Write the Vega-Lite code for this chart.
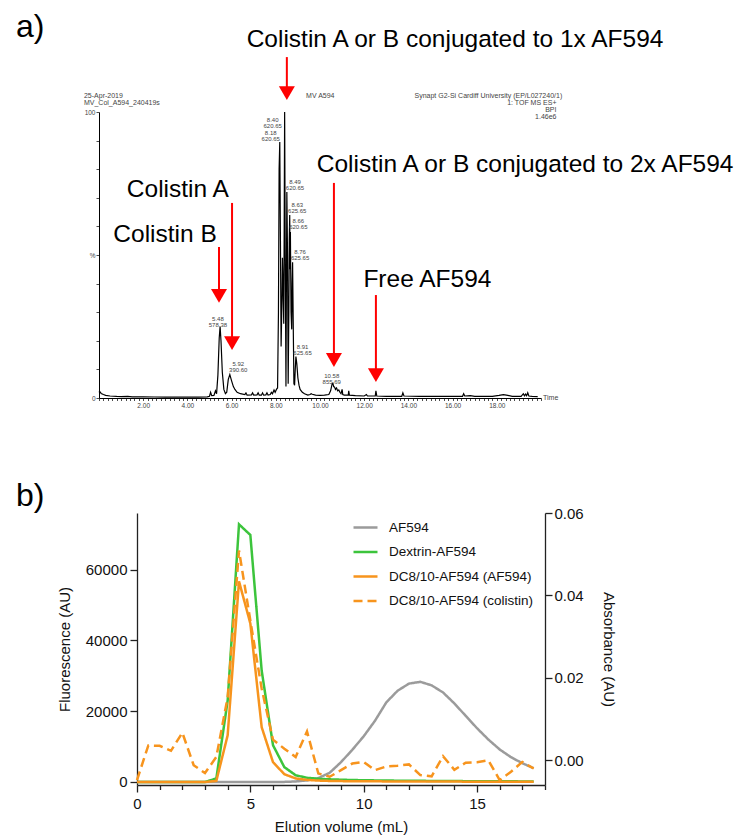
{
  "$schema": "https://vega.github.io/schema/vega-lite/v6.json",
  "width": 734,
  "height": 837,
  "autosize": {"type": "none"},
  "padding": 0,
  "config": {
    "view": {"stroke": null},
    "font": "Liberation Sans",
    "axis": {"grid": false, "labelFont": "Liberation Sans", "titleFont": "Liberation Sans", "labelFlush": false, "labelOverlap": false},
    "legend": {"labelFont": "Liberation Sans"},
    "text": {"font": "Liberation Sans"}
  },
  "datasets": {
    "chrom": [
      {"t":0,"i":2.0},{"t":0.03,"i":2.3},{"t":0.1,"i":1.6},{"t":0.2,"i":1.2},{"t":0.3,"i":0.9},{"t":0.5,"i":0.7},{"t":0.8,"i":0.55},{"t":1.0,"i":0.5},{"t":1.3,"i":0.6},{"t":1.5,"i":0.4},{"t":2.0,"i":0.4},{"t":2.5,"i":0.35},{"t":3.0,"i":0.3},{"t":3.5,"i":0.3},{"t":4.0,"i":0.3},{"t":4.5,"i":0.3},{"t":4.9,"i":0.4},{"t":5.0,"i":0.6},{"t":5.05,"i":2.0},{"t":5.1,"i":0.8},{"t":5.2,"i":0.9},{"t":5.27,"i":2.5},{"t":5.32,"i":1.5},{"t":5.38,"i":8},{"t":5.44,"i":21},{"t":5.48,"i":25},{"t":5.52,"i":20},{"t":5.58,"i":9},{"t":5.65,"i":3},{"t":5.72,"i":1.5},{"t":5.78,"i":2},{"t":5.85,"i":6.5},{"t":5.92,"i":8.2},{"t":6.0,"i":6},{"t":6.08,"i":4},{"t":6.15,"i":3},{"t":6.25,"i":2},{"t":6.4,"i":1.5},{"t":6.6,"i":1.2},{"t":6.65,"i":1.8},{"t":6.7,"i":1.0},{"t":6.9,"i":1.1},{"t":6.95,"i":1.8},{"t":7.0,"i":1.0},{"t":7.15,"i":1.1},{"t":7.2,"i":1.8},{"t":7.25,"i":1.0},{"t":7.35,"i":1.0},{"t":7.4,"i":1.8},{"t":7.45,"i":1.0},{"t":7.55,"i":1.1},{"t":7.6,"i":1.8},{"t":7.65,"i":1.0},{"t":7.75,"i":1.2},{"t":7.8,"i":2.0},{"t":7.85,"i":1.5},{"t":7.92,"i":2.8},{"t":7.97,"i":2.0},{"t":8.03,"i":3},{"t":8.08,"i":3.5},{"t":8.12,"i":30},{"t":8.15,"i":80},{"t":8.18,"i":89.5},{"t":8.21,"i":55},{"t":8.24,"i":18},{"t":8.28,"i":35},{"t":8.30,"i":49},{"t":8.33,"i":38},{"t":8.36,"i":26},{"t":8.38,"i":60},{"t":8.40,"i":100},{"t":8.43,"i":45},{"t":8.46,"i":4},{"t":8.48,"i":40},{"t":8.50,"i":72},{"t":8.53,"i":50},{"t":8.56,"i":5},{"t":8.59,"i":30},{"t":8.61,"i":55},{"t":8.63,"i":64},{"t":8.645,"i":45},{"t":8.66,"i":58},{"t":8.69,"i":30},{"t":8.72,"i":24},{"t":8.74,"i":40},{"t":8.76,"i":47.5},{"t":8.79,"i":25},{"t":8.82,"i":5},{"t":8.85,"i":4.5},{"t":8.88,"i":10},{"t":8.91,"i":14.5},{"t":8.95,"i":12},{"t":9.0,"i":7},{"t":9.05,"i":4.5},{"t":9.1,"i":3},{"t":9.2,"i":2},{"t":9.3,"i":1.5},{"t":9.45,"i":1.0},{"t":9.55,"i":1.2},{"t":9.6,"i":1.5},{"t":9.65,"i":1.3},{"t":9.8,"i":1.0},{"t":10.0,"i":0.9},{"t":10.2,"i":1.0},{"t":10.4,"i":1.2},{"t":10.48,"i":2.5},{"t":10.55,"i":5},{"t":10.58,"i":5.2},{"t":10.62,"i":4},{"t":10.66,"i":3.8},{"t":10.7,"i":3},{"t":10.75,"i":3.5},{"t":10.8,"i":2.5},{"t":10.85,"i":2.8},{"t":10.9,"i":2},{"t":10.95,"i":1.5},{"t":11.0,"i":3},{"t":11.03,"i":1.2},{"t":11.1,"i":1.0},{"t":11.28,"i":1.0},{"t":11.3,"i":2.5},{"t":11.33,"i":1.0},{"t":11.6,"i":0.8},{"t":12.0,"i":0.7},{"t":12.1,"i":1.2},{"t":12.15,"i":0.7},{"t":12.5,"i":0.7},{"t":12.53,"i":2.5},{"t":12.57,"i":0.7},{"t":13.0,"i":0.6},{"t":13.7,"i":0.6},{"t":13.75,"i":1.8},{"t":13.8,"i":0.7},{"t":14.5,"i":0.6},{"t":15.5,"i":0.6},{"t":16.45,"i":0.6},{"t":16.5,"i":1.5},{"t":16.55,"i":0.7},{"t":16.8,"i":0.8},{"t":17.0,"i":0.6},{"t":17.8,"i":0.6},{"t":18.1,"i":0.9},{"t":18.3,"i":1.2},{"t":18.5,"i":0.9},{"t":18.7,"i":0.6},{"t":19.1,"i":0.6},{"t":19.2,"i":1.5},{"t":19.25,"i":0.8},{"t":19.3,"i":1.4},{"t":19.35,"i":0.8},{"t":19.4,"i":1.8},{"t":19.45,"i":0.7},{"t":19.6,"i":0.6},{"t":19.85,"i":0.5}
    ],
    "peaks": [
      {"x":5.38,"y":28.7,"label":"5.48\n578.38"},
      {"x":6.30,"y":12.8,"label":"5.92\n390.60"},
      {"x":7.86,"y":98.4,"label":"8.40\n620.65"},
      {"x":7.77,"y":93.7,"label":"8.18\n620.65"},
      {"x":8.87,"y":76.6,"label":"8.49\n620.65"},
      {"x":8.97,"y":68.7,"label":"8.63\n625.65"},
      {"x":9.02,"y":62.8,"label":"8.66\n620.65"},
      {"x":9.10,"y":52.1,"label":"8.76\n625.65"},
      {"x":9.21,"y":18.9,"label":"8.91\n625.65"},
      {"x":10.53,"y":8.6,"label":"10.58\n855.69"}
    ],
    "big": [
      {"x":16.11,"y":122.7,"label":"Colistin A or B conjugated to 1x AF594"},
      {"x":3.57,"y":70.3,"label":"Colistin A"},
      {"x":2.99,"y":54.5,"label":"Colistin B"},
      {"x":19.28,"y":79.0,"label":"Colistin A or B conjugated to 2x AF594"},
      {"x":14.86,"y":38.8,"label":"Free AF594"}
    ],
    "panels": [
      {"x":-3.76,"y":126.2,"label":"a)"},
      {"x":-3.76,"y":-37.8,"label":"b)"}
    ],
    "hdrLeft": [
      {"x":-0.68,"y":104.9,"label":"25-Apr-2019"},
      {"x":-0.68,"y":102.5,"label":"MV_Col_A594_240419s"},
      {"x":9.37,"y":104.9,"label":"MV A594"},
      {"x":20.09,"y":-0.8,"label":"Time"}
    ],
    "hdrRight": [
      {"x":20.96,"y":104.9,"label":"Synapt G2-Si Cardiff University (EP/L027240/1)"},
      {"x":20.7,"y":102.5,"label":"1: TOF MS ES+"},
      {"x":20.7,"y":100.1,"label":"BPI"},
      {"x":20.7,"y":97.7,"label":"1.46e6"}
    ],
    "arrows": [
      {"x":8.5,"top":119.2,"head":106.6},
      {"x":5.43,"top":52.8,"head":35.7},
      {"x":6.02,"top":68.2,"head":19.2},
      {"x":10.63,"top":75.2,"head":13.3},
      {"x":12.53,"top":36.0,"head":8.0}
    ],
    "fluor": [
      {"v":0,"s":"AF594","f":0},{"v":0.5,"s":"AF594","f":0},{"v":1,"s":"AF594","f":0},{"v":1.5,"s":"AF594","f":0},{"v":2,"s":"AF594","f":0},{"v":2.5,"s":"AF594","f":0},{"v":3,"s":"AF594","f":0},{"v":3.5,"s":"AF594","f":0},{"v":4,"s":"AF594","f":0},{"v":4.5,"s":"AF594","f":0},{"v":5,"s":"AF594","f":0},{"v":5.5,"s":"AF594","f":0},{"v":6,"s":"AF594","f":0},{"v":6.5,"s":"AF594","f":30},{"v":7,"s":"AF594","f":150},{"v":7.5,"s":"AF594","f":450},{"v":8,"s":"AF594","f":1100},{"v":8.5,"s":"AF594","f":2600},{"v":9,"s":"AF594","f":5600},{"v":9.5,"s":"AF594","f":9100},{"v":10,"s":"AF594","f":12900},{"v":10.5,"s":"AF594","f":17300},{"v":11,"s":"AF594","f":22500},{"v":11.5,"s":"AF594","f":25800},{"v":12,"s":"AF594","f":27800},{"v":12.5,"s":"AF594","f":28300},{"v":13,"s":"AF594","f":27300},{"v":13.5,"s":"AF594","f":25300},{"v":14,"s":"AF594","f":22200},{"v":14.5,"s":"AF594","f":18700},{"v":15,"s":"AF594","f":15200},{"v":15.5,"s":"AF594","f":12000},{"v":16,"s":"AF594","f":9200},{"v":16.5,"s":"AF594","f":7000},{"v":17,"s":"AF594","f":5300},{"v":17.5,"s":"AF594","f":3900},
      {"v":0,"s":"Dextrin-AF594","f":0},{"v":0.5,"s":"Dextrin-AF594","f":0},{"v":1,"s":"Dextrin-AF594","f":0},{"v":1.5,"s":"Dextrin-AF594","f":0},{"v":2,"s":"Dextrin-AF594","f":0},{"v":2.5,"s":"Dextrin-AF594","f":0},{"v":3,"s":"Dextrin-AF594","f":0},{"v":3.5,"s":"Dextrin-AF594","f":1000},{"v":4,"s":"Dextrin-AF594","f":23000},{"v":4.5,"s":"Dextrin-AF594","f":72800},{"v":5,"s":"Dextrin-AF594","f":69800},{"v":5.5,"s":"Dextrin-AF594","f":31500},{"v":6,"s":"Dextrin-AF594","f":10400},{"v":6.5,"s":"Dextrin-AF594","f":4200},{"v":7,"s":"Dextrin-AF594","f":1900},{"v":7.5,"s":"Dextrin-AF594","f":1200},{"v":8,"s":"Dextrin-AF594","f":900},{"v":8.5,"s":"Dextrin-AF594","f":750},{"v":9,"s":"Dextrin-AF594","f":650},{"v":9.5,"s":"Dextrin-AF594","f":550},{"v":10,"s":"Dextrin-AF594","f":500},{"v":10.5,"s":"Dextrin-AF594","f":450},{"v":11,"s":"Dextrin-AF594","f":400},{"v":11.5,"s":"Dextrin-AF594","f":380},{"v":12,"s":"Dextrin-AF594","f":350},{"v":12.5,"s":"Dextrin-AF594","f":330},{"v":13,"s":"Dextrin-AF594","f":300},{"v":13.5,"s":"Dextrin-AF594","f":280},{"v":14,"s":"Dextrin-AF594","f":260},{"v":14.5,"s":"Dextrin-AF594","f":240},{"v":15,"s":"Dextrin-AF594","f":220},{"v":15.5,"s":"Dextrin-AF594","f":200},{"v":16,"s":"Dextrin-AF594","f":190},{"v":16.5,"s":"Dextrin-AF594","f":180},{"v":17,"s":"Dextrin-AF594","f":170},{"v":17.5,"s":"Dextrin-AF594","f":160},
      {"v":0,"s":"DC8/10-AF594 (AF594)","f":0},{"v":0.5,"s":"DC8/10-AF594 (AF594)","f":0},{"v":1,"s":"DC8/10-AF594 (AF594)","f":0},{"v":1.5,"s":"DC8/10-AF594 (AF594)","f":0},{"v":2,"s":"DC8/10-AF594 (AF594)","f":0},{"v":2.5,"s":"DC8/10-AF594 (AF594)","f":0},{"v":3,"s":"DC8/10-AF594 (AF594)","f":0},{"v":3.5,"s":"DC8/10-AF594 (AF594)","f":300},{"v":4,"s":"DC8/10-AF594 (AF594)","f":13200},{"v":4.5,"s":"DC8/10-AF594 (AF594)","f":56700},{"v":5,"s":"DC8/10-AF594 (AF594)","f":44800},{"v":5.5,"s":"DC8/10-AF594 (AF594)","f":15500},{"v":6,"s":"DC8/10-AF594 (AF594)","f":5600},{"v":6.5,"s":"DC8/10-AF594 (AF594)","f":2200},{"v":7,"s":"DC8/10-AF594 (AF594)","f":1000},{"v":7.5,"s":"DC8/10-AF594 (AF594)","f":600},{"v":8,"s":"DC8/10-AF594 (AF594)","f":400},{"v":8.5,"s":"DC8/10-AF594 (AF594)","f":300},{"v":9,"s":"DC8/10-AF594 (AF594)","f":250},{"v":9.5,"s":"DC8/10-AF594 (AF594)","f":220},{"v":10,"s":"DC8/10-AF594 (AF594)","f":200},{"v":10.5,"s":"DC8/10-AF594 (AF594)","f":180},{"v":11,"s":"DC8/10-AF594 (AF594)","f":170},{"v":11.5,"s":"DC8/10-AF594 (AF594)","f":160},{"v":12,"s":"DC8/10-AF594 (AF594)","f":150},{"v":12.5,"s":"DC8/10-AF594 (AF594)","f":140},{"v":13,"s":"DC8/10-AF594 (AF594)","f":130},{"v":13.5,"s":"DC8/10-AF594 (AF594)","f":120},{"v":14,"s":"DC8/10-AF594 (AF594)","f":110},{"v":14.5,"s":"DC8/10-AF594 (AF594)","f":100},{"v":15,"s":"DC8/10-AF594 (AF594)","f":100},{"v":15.5,"s":"DC8/10-AF594 (AF594)","f":100},{"v":16,"s":"DC8/10-AF594 (AF594)","f":90},{"v":16.5,"s":"DC8/10-AF594 (AF594)","f":90},{"v":17,"s":"DC8/10-AF594 (AF594)","f":80},{"v":17.5,"s":"DC8/10-AF594 (AF594)","f":80}
    ],
    "absorb": [
      {"v":0,"s":"DC8/10-AF594 (colistin)","a":-0.0048},{"v":0.5,"s":"DC8/10-AF594 (colistin)","a":0.0036},{"v":1,"s":"DC8/10-AF594 (colistin)","a":0.0035},{"v":1.5,"s":"DC8/10-AF594 (colistin)","a":0.0023},{"v":2,"s":"DC8/10-AF594 (colistin)","a":0.0067},{"v":2.5,"s":"DC8/10-AF594 (colistin)","a":-0.0012},{"v":3,"s":"DC8/10-AF594 (colistin)","a":-0.0031},{"v":3.5,"s":"DC8/10-AF594 (colistin)","a":0.0008},{"v":4,"s":"DC8/10-AF594 (colistin)","a":0.0153},{"v":4.5,"s":"DC8/10-AF594 (colistin)","a":0.0509},{"v":5,"s":"DC8/10-AF594 (colistin)","a":0.0339},{"v":5.5,"s":"DC8/10-AF594 (colistin)","a":0.0174},{"v":6,"s":"DC8/10-AF594 (colistin)","a":0.005},{"v":6.5,"s":"DC8/10-AF594 (colistin)","a":0.0028},{"v":7,"s":"DC8/10-AF594 (colistin)","a":0.0008},{"v":7.5,"s":"DC8/10-AF594 (colistin)","a":0.007},{"v":8,"s":"DC8/10-AF594 (colistin)","a":-0.0032},{"v":8.5,"s":"DC8/10-AF594 (colistin)","a":-0.004},{"v":9,"s":"DC8/10-AF594 (colistin)","a":-0.0024},{"v":9.5,"s":"DC8/10-AF594 (colistin)","a":-0.0008},{"v":10,"s":"DC8/10-AF594 (colistin)","a":-0.0004},{"v":10.5,"s":"DC8/10-AF594 (colistin)","a":-0.0024},{"v":11,"s":"DC8/10-AF594 (colistin)","a":-0.0015},{"v":11.5,"s":"DC8/10-AF594 (colistin)","a":-0.0013},{"v":12,"s":"DC8/10-AF594 (colistin)","a":-0.001},{"v":12.5,"s":"DC8/10-AF594 (colistin)","a":-0.0036},{"v":13,"s":"DC8/10-AF594 (colistin)","a":-0.0039},{"v":13.5,"s":"DC8/10-AF594 (colistin)","a":0.001},{"v":14,"s":"DC8/10-AF594 (colistin)","a":-0.0023},{"v":14.5,"s":"DC8/10-AF594 (colistin)","a":-0.0006},{"v":15,"s":"DC8/10-AF594 (colistin)","a":-0.0005},{"v":15.5,"s":"DC8/10-AF594 (colistin)","a":0.0},{"v":16,"s":"DC8/10-AF594 (colistin)","a":-0.0048},{"v":16.5,"s":"DC8/10-AF594 (colistin)","a":-0.0028},{"v":17,"s":"DC8/10-AF594 (colistin)","a":-0.0004},{"v":17.5,"s":"DC8/10-AF594 (colistin)","a":-0.002}
    ]
  },
  "layer": [
    {
      "data": {"name": "chrom"},
      "mark": {"type": "line", "color": "#000000", "strokeWidth": 1.2},
      "encoding": {
        "x": {"field": "t", "type": "quantitative", "scale": {"domain": [0, 20], "range": [99, 541], "nice": false},
          "axis": {"orient": "bottom", "offset": -439, "tickCount": 100, "tickSize": 2.5, "tickColor": "#000", "tickWidth": 0.7, "domainColor": "#000", "domainWidth": 1, "labelFontSize": 6.5, "labelColor": "#444", "labelPadding": 2, "labelExpr": "datum.value > 0 && datum.value < 19 && datum.value % 2 === 0 ? format(datum.value, '.2f') : ''", "title": null}},
        "y": {"field": "i", "type": "quantitative", "scale": {"domain": [0, 100], "range": [398, 112], "nice": false},
          "axis": {"orient": "left", "offset": -99, "tickCount": 10, "tickSize": 3, "tickColor": "#000", "tickWidth": 0.7, "domainColor": "#000", "domainWidth": 1, "labelFontSize": 6.5, "labelColor": "#444", "labelPadding": 1, "labelExpr": "datum.value === 100 ? '100' : datum.value === 50 ? '%' : datum.value === 0 ? '0' : ''", "title": null}}
      }
    },
    {
      "data": {"name": "peaks"},
      "mark": {"type": "text", "fontSize": 6, "color": "#444", "align": "center", "baseline": "top", "lineBreak": "\n", "lineHeight": 6},
      "encoding": {
        "x": {"field": "x", "type": "quantitative", "scale": {"domain": [0, 20], "range": [99, 541], "nice": false}, "axis": null},
        "y": {"field": "y", "type": "quantitative", "scale": {"domain": [0, 100], "range": [398, 112], "nice": false}, "axis": null},
        "text": {"field": "label"}
      }
    },
    {
      "data": {"name": "big"},
      "mark": {"type": "text", "fontSize": 24.5, "color": "#000", "align": "center", "baseline": "alphabetic"},
      "encoding": {
        "x": {"field": "x", "type": "quantitative", "scale": {"domain": [0, 20], "range": [99, 541], "nice": false}, "axis": null},
        "y": {"field": "y", "type": "quantitative", "scale": {"domain": [0, 100], "range": [398, 112], "nice": false}, "axis": null},
        "text": {"field": "label"}
      }
    },
    {
      "data": {"name": "panels"},
      "mark": {"type": "text", "fontSize": 32, "color": "#000", "align": "left", "baseline": "alphabetic"},
      "encoding": {
        "x": {"field": "x", "type": "quantitative", "scale": {"domain": [0, 20], "range": [99, 541], "nice": false}, "axis": null},
        "y": {"field": "y", "type": "quantitative", "scale": {"domain": [0, 100], "range": [398, 112], "nice": false}, "axis": null},
        "text": {"field": "label"}
      }
    },
    {
      "data": {"name": "hdrLeft"},
      "mark": {"type": "text", "fontSize": 7, "color": "#444", "align": "left", "baseline": "alphabetic"},
      "encoding": {
        "x": {"field": "x", "type": "quantitative", "scale": {"domain": [0, 20], "range": [99, 541], "nice": false}, "axis": null},
        "y": {"field": "y", "type": "quantitative", "scale": {"domain": [0, 100], "range": [398, 112], "nice": false}, "axis": null},
        "text": {"field": "label"}
      }
    },
    {
      "data": {"name": "hdrRight"},
      "mark": {"type": "text", "fontSize": 7, "color": "#444", "align": "right", "baseline": "alphabetic"},
      "encoding": {
        "x": {"field": "x", "type": "quantitative", "scale": {"domain": [0, 20], "range": [99, 541], "nice": false}, "axis": null},
        "y": {"field": "y", "type": "quantitative", "scale": {"domain": [0, 100], "range": [398, 112], "nice": false}, "axis": null},
        "text": {"field": "label"}
      }
    },
    {
      "data": {"name": "arrows"},
      "mark": {"type": "rule", "color": "#ff0000", "strokeWidth": 2},
      "encoding": {
        "x": {"field": "x", "type": "quantitative", "scale": {"domain": [0, 20], "range": [99, 541], "nice": false}, "axis": null},
        "y": {"field": "top", "type": "quantitative", "scale": {"domain": [0, 100], "range": [398, 112], "nice": false}, "axis": null},
        "y2": {"field": "head"}
      }
    },
    {
      "data": {"name": "arrows"},
      "mark": {"type": "point", "shape": "triangle-down", "filled": true, "color": "#ff0000", "size": 256, "opacity": 1},
      "encoding": {
        "x": {"field": "x", "type": "quantitative", "scale": {"domain": [0, 20], "range": [99, 541], "nice": false}, "axis": null},
        "y": {"field": "head", "type": "quantitative", "scale": {"domain": [0, 100], "range": [398, 112], "nice": false}, "axis": null}
      }
    },
    {
      "data": {"name": "fluor"},
      "mark": {"type": "line", "strokeWidth": 2.5},
      "encoding": {
        "x": {"field": "v", "type": "quantitative", "scale": {"domain": [0, 18], "range": [137, 545], "nice": false},
          "axis": {"orient": "bottom", "offset": -52, "values": [0,1,2,3,4,5,6,7,8,9,10,11,12,13,14,15,16,17,18], "tickSize": {"condition": {"test": "datum.value % 5 === 0", "value": 7}, "value": 4.5}, "tickColor": "#222", "tickWidth": 1.3, "domainColor": "#222", "domainWidth": 1.3, "labelFontSize": 15, "labelColor": "#111", "labelPadding": 4, "labelExpr": "datum.value % 5 === 0 ? datum.label : ''", "title": "Elution volume (mL)", "titleFontSize": 15, "titleFontWeight": "normal", "titleColor": "#111", "titlePadding": 8}},
        "y": {"field": "f", "type": "quantitative", "scale": {"domain": [-850, 76000], "range": [785, 513], "nice": false},
          "axis": {"orient": "left", "offset": -137, "values": [0, 20000, 40000, 60000], "format": "d", "tickSize": 7, "tickColor": "#222", "tickWidth": 1.3, "domainColor": "#222", "domainWidth": 1.3, "labelFontSize": 15, "labelColor": "#111", "labelPadding": 3, "title": "Fluorescence (AU)", "titleFontSize": 15, "titleFontWeight": "normal", "titleColor": "#111", "titlePadding": 13}},
        "color": {"field": "s", "type": "nominal", "sort": null,
          "scale": {"domain": ["AF594", "Dextrin-AF594", "DC8/10-AF594 (AF594)", "DC8/10-AF594 (colistin)"], "range": ["#9b9b9b", "#3cc43c", "#f7941d", "#f7941d"]},
          "legend": {"orient": "none", "legendX": 352, "legendY": 514, "title": null, "symbolType": "stroke", "symbolSize": 576, "symbolStrokeWidth": 2.5, "labelFontSize": 13.5, "labelOffset": 10, "rowPadding": 4.5, "labelColor": "#111", "padding": 0}},
        "strokeDash": {"field": "s", "type": "nominal", "sort": null,
          "scale": {"domain": ["AF594", "Dextrin-AF594", "DC8/10-AF594 (AF594)", "DC8/10-AF594 (colistin)"], "range": [[1, 0], [1, 0], [1, 0], [9, 5]]},
          "legend": {"orient": "none", "legendX": 352, "legendY": 514, "title": null, "symbolType": "stroke", "symbolSize": 576, "symbolStrokeWidth": 2.5, "labelFontSize": 13.5, "labelOffset": 10, "rowPadding": 4.5, "labelColor": "#111", "padding": 0}}
      }
    },
    {
      "data": {"name": "absorb"},
      "mark": {"type": "line", "strokeWidth": 2.5},
      "encoding": {
        "x": {"field": "v", "type": "quantitative", "scale": {"domain": [0, 18], "range": [137, 545], "nice": false}, "axis": null},
        "y": {"field": "a", "type": "quantitative", "scale": {"domain": [-0.006, 0.06], "range": [785, 513], "nice": false},
          "axis": {"orient": "right", "offset": -189, "values": [0, 0.02, 0.04, 0.06], "format": ".2f", "tickSize": 7, "tickColor": "#222", "tickWidth": 1.3, "domainColor": "#222", "domainWidth": 1.3, "labelFontSize": 15, "labelColor": "#111", "labelPadding": 2, "title": "Absorbance (AU)", "titleFontSize": 15, "titleFontWeight": "normal", "titleColor": "#111", "titlePadding": 17}},
        "color": {"field": "s", "type": "nominal", "sort": null,
          "scale": {"domain": ["AF594", "Dextrin-AF594", "DC8/10-AF594 (AF594)", "DC8/10-AF594 (colistin)"], "range": ["#9b9b9b", "#3cc43c", "#f7941d", "#f7941d"]},
          "legend": {"orient": "none", "legendX": 352, "legendY": 514, "title": null, "symbolType": "stroke", "symbolSize": 576, "symbolStrokeWidth": 2.5, "labelFontSize": 13.5, "labelOffset": 10, "rowPadding": 4.5, "labelColor": "#111", "padding": 0}},
        "strokeDash": {"field": "s", "type": "nominal", "sort": null,
          "scale": {"domain": ["AF594", "Dextrin-AF594", "DC8/10-AF594 (AF594)", "DC8/10-AF594 (colistin)"], "range": [[1, 0], [1, 0], [1, 0], [9, 5]]},
          "legend": {"orient": "none", "legendX": 352, "legendY": 514, "title": null, "symbolType": "stroke", "symbolSize": 576, "symbolStrokeWidth": 2.5, "labelFontSize": 13.5, "labelOffset": 10, "rowPadding": 4.5, "labelColor": "#111", "padding": 0}}
      }
    }
  ],
  "resolve": {"scale": {"x": "independent", "y": "independent"}}
}
